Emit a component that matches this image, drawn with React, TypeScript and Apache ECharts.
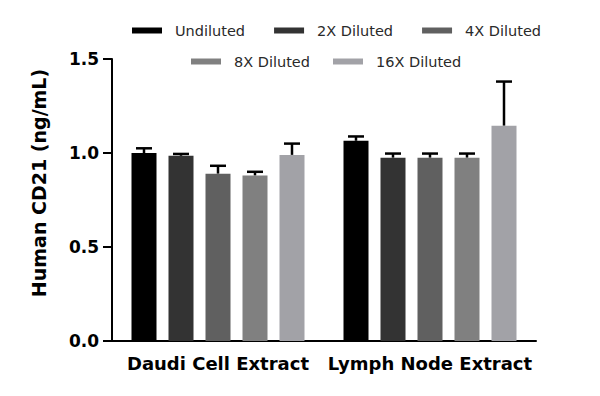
import React, { useEffect, useRef } from "react";
import * as echarts from "echarts";

const categories = ["Daudi Cell Extract", "Lymph Node Extract"];
const seriesNames = ["Undiluted", "2X Diluted", "4X Diluted", "8X Diluted", "16X Diluted"];
const undiluted = [1.0, 1.065];
const diluted2x = [0.985, 0.975];
const diluted4x = [0.89, 0.975];
const diluted8x = [0.88, 0.975];
const diluted16x = [0.99, 1.145];
const errUndiluted = [0.025, 0.023];
const err2x = [0.01, 0.022];
const err4x = [0.042, 0.022];
const err8x = [0.02, 0.022];
const err16x = [0.06, 0.235];
const yTicks = [0, 0.5, 1.0, 1.5];

const colors = ["#000000", "#333333", "#606060", "#808080", "#a2a2a7"];

export default function App() {
  const ref = useRef<HTMLDivElement>(null);
  useEffect(() => {
    document.body.style.margin = "0";
    if (!ref.current) return;
    const chart = echarts.init(ref.current, undefined, { renderer: "svg" });
    const values = [undiluted, diluted2x, diluted4x, diluted8x, diluted16x];
    const errs = [errUndiluted, err2x, err4x, err8x, err16x];
    const barWidth = 25;
    const gap = 12;
    const font = "'DejaVu Sans', sans-serif";

    const barSeries = seriesNames.map((name, i) => ({
      name,
      type: "bar",
      data: values[i],
      barWidth,
      barGap: `${(gap / barWidth) * 100}%`,
      itemStyle: { color: colors[i] },
      z: 2,
    }));

    const errSeries = seriesNames.map((name, i) => ({
      name: name + " error",
      type: "custom",
      data: values[i].map((v, j) => [j, v, v + errs[i][j]]),
      z: 1,
      renderItem: (params: any, api: any) => {
        const cat = api.value(0);
        const base = api.coord([cat, api.value(1)]);
        const top = api.coord([cat, api.value(2)]);
        const x = base[0] + (i - 2) * (barWidth + gap);
        const cap = 8;
        return {
          type: "group",
          children: [
            {
              type: "line",
              shape: { x1: x, y1: base[1], x2: x, y2: top[1] },
              style: { stroke: "#000", lineWidth: 2.5 },
            },
            {
              type: "line",
              shape: { x1: x - cap, y1: top[1], x2: x + cap, y2: top[1] },
              style: { stroke: "#000", lineWidth: 2.5 },
            },
          ],
        };
      },
    }));

    const legendCommon = {
      orient: "horizontal",
      itemWidth: 30,
      itemHeight: 6,
      icon: "rect",
      textStyle: {
        fontFamily: font,
        fontSize: 14.5,
        fontWeight: "normal",
        color: "#2a2a2a",
        padding: [0, 0, 0, 8],
      },
    };

    chart.setOption({
      animation: false,
      legend: [
        { ...legendCommon, data: seriesNames.slice(0, 3), left: 127, top: 18, itemGap: 29 },
        { ...legendCommon, data: seriesNames.slice(3), left: 186, top: 49, itemGap: 23 },
      ],
      grid: { left: 112, right: 64, top: 59, bottom: 55, containLabel: false },
      xAxis: {
        type: "category",
        data: categories,
        axisLine: { lineStyle: { color: "#000", width: 2 } },
        axisTick: { alignWithLabel: true, length: 7, lineStyle: { color: "#000", width: 2 } },
        axisLabel: {
          interval: 0,
          color: "#000",
          fontFamily: font,
          fontWeight: "bold",
          fontSize: 18,
          margin: 13,
        },
      },
      yAxis: {
        type: "value",
        min: 0,
        max: 1.5,
        interval: 0.5,
        name: "Human CD21 (ng/mL)",
        nameLocation: "middle",
        nameGap: 64,
        nameTextStyle: {
          color: "#000",
          fontFamily: font,
          fontWeight: "bold",
          fontSize: 19,
          padding: [0, 0, 0, 34],
        },
        splitLine: { show: false },
        axisLine: { show: true, lineStyle: { color: "#000", width: 2 } },
        axisTick: { show: true, length: 9, lineStyle: { color: "#000", width: 2 } },
        axisLabel: {
          color: "#000",
          fontFamily: font,
          fontWeight: "bold",
          fontSize: 17,
          margin: 13,
          formatter: (v: number) => (yTicks.includes(v) ? v.toFixed(1) : ""),
        },
      },
      series: [...errSeries, ...barSeries],
    });
    return () => chart.dispose();
  }, []);
  return <div ref={ref} style={{ width: 600, height: 396 }} />;
}
